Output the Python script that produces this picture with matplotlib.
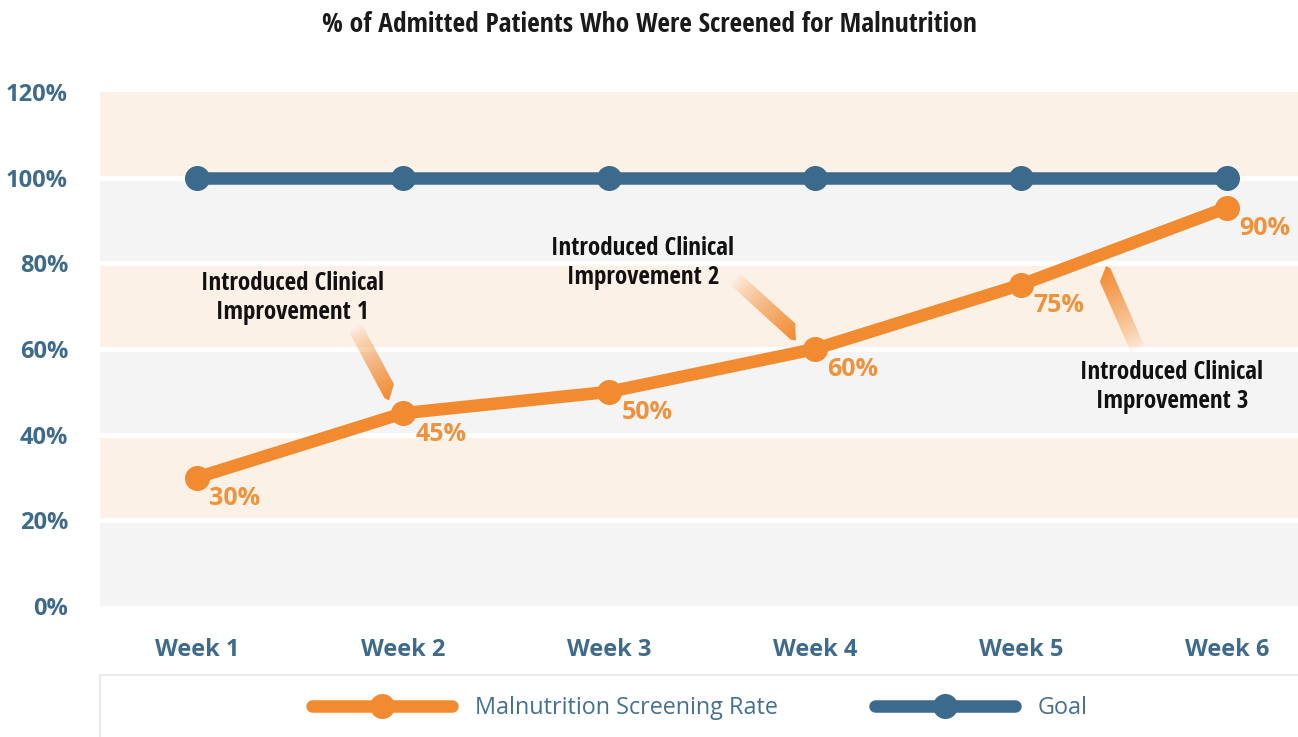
import matplotlib
matplotlib.use('Agg')
import numpy as np
import matplotlib.pyplot as plt
from matplotlib import font_manager as fm
from matplotlib.path import Path
from matplotlib.patches import Rectangle
from matplotlib.colors import to_rgb

# ---------------- data ----------------
weeks = ['Week 1', 'Week 2', 'Week 3', 'Week 4', 'Week 5', 'Week 6']
screening_rate = [30, 45, 50, 60, 75, 93]
rate_labels = ['30%', '45%', '50%', '60%', '75%', '90%']
goal = [100, 100, 100, 100, 100, 100]
y_ticks = [0, 20, 40, 60, 80, 100, 120]
y_tick_labels = ['0%', '20%', '40%', '60%', '80%', '100%', '120%']
title = '% of Admitted Patients Who Were Screened for Malnutrition'
series_names = ['Malnutrition Screening Rate', 'Goal']
annotation_texts = ['Introduced Clinical\nImprovement 1',
                    'Introduced Clinical\nImprovement 2',
                    'Introduced Clinical\nImprovement 3']
annotation_weeks = [1, 3, 4]

# ---------------- style ----------------
ORANGE = '#F28A2F'
LABEL_ORANGE = '#F0923C'
BLUE = '#3B6A8D'
TICK_BLUE = '#3E6B8C'
PEACH = '#FCF1E7'
GRAY = '#F4F4F4'

names = {f.name for f in fm.fontManager.ttflist}
MAIN = 'Open Sans' if 'Open Sans' in names else 'DejaVu Sans'
COND, COND_STRETCH = None, 'normal'
for c in ['Open Sans Condensed', 'Roboto Condensed', 'Liberation Sans Narrow',
          'Arial Narrow', 'DejaVu Sans Condensed']:
    if c in names:
        COND = c
        break
if COND is None:
    for f in fm.fontManager.ttflist:
        if f.name == 'DejaVu Sans' and 'condensed' in str(f.stretch):
            COND, COND_STRETCH = 'DejaVu Sans', 'condensed'
            break
if COND is None:
    COND = 'Roboto' if 'Roboto' in names else MAIN

W, H = 1298, 737
fig = plt.figure(figsize=(W / 100, H / 100), dpi=100)
fig.patch.set_facecolor('white')
ax = fig.add_axes([100 / W, 131 / H, 1 - 100 / W, 514 / H])

x = np.arange(len(weeks))
ax.set_xlim(-0.471, 5.345)
ax.set_ylim(0, 120)

# alternating bands
for i in range(len(y_ticks) - 1):
    ax.axhspan(y_ticks[i], y_ticks[i + 1], color=[GRAY, PEACH][i % 2], lw=0, zorder=0)
for yv in y_ticks[1:-1]:
    ax.axhline(yv, color='white', lw=3.5, zorder=1)

l_rate, = ax.plot(x, screening_rate, color=ORANGE, lw=9, marker='o', ms=17,
                  solid_capstyle='round', zorder=4)
l_goal, = ax.plot(x, goal, color=BLUE, lw=9, marker='o', ms=17,
                  solid_capstyle='round', zorder=3)

for xi, yi, lab in zip(x, screening_rate, rate_labels):
    ax.annotate(lab, (xi, yi), xytext=(38 * 0.72, -21 * 0.72), textcoords='offset points',
                ha='center', va='center', color=LABEL_ORANGE, fontsize=18,
                fontweight='bold', family=MAIN, zorder=6)

ax.set_xticks(x, weeks)
ax.set_yticks(y_ticks, y_tick_labels)
ax.tick_params(axis='both', length=0, colors=TICK_BLUE, labelsize=17)
ax.tick_params(axis='y', pad=23)
ax.tick_params(axis='x', pad=23)
for lab in ax.get_xticklabels() + ax.get_yticklabels():
    lab.set_fontweight('bold')
    lab.set_family(MAIN)
for s in ax.spines.values():
    s.set_visible(False)

renderer = fig.canvas.get_renderer()


def fit_width(t, target):
    for _ in range(3):
        bb = t.get_window_extent(renderer)
        t.set_fontsize(t.get_fontsize() * target / bb.width)


# title
t = fig.text(0.5, 1 - 24 / H, title, ha='center', va='center', fontsize=18,
             fontweight='bold', family=COND, fontstretch=COND_STRETCH, color='#1A1A1A')
fit_width(t, 653)

# legend box
fig.patches.append(Rectangle((100 / W, -0.01), 1, (737 - 675) / H + 0.01,
                             transform=fig.transFigure, facecolor='white',
                             edgecolor='#E6E6E6', lw=1.2, zorder=0, figure=fig))
leg = fig.legend([l_rate, l_goal], series_names, loc='center',
                 bbox_to_anchor=(700 / W, 1 - 708 / H), ncol=2, frameon=False,
                 prop=fm.FontProperties(family=MAIN, size=16.8),
                 handlelength=6.0, handletextpad=0.95, columnspacing=4.2,
                 numpoints=1, borderaxespad=0)
for txt in leg.get_texts():
    txt.set_color('#46708F')


# annotations (offsets in image pixels from the anchor point: dx right, dy down)
text_offsets = [(-111, -115), (-172, -86), (151, 102)]
tail_offsets = [(-48, -86), (-80, -70), (117, 65)]
tip_offsets = [(-10, -15), (-16, -12), (81, -17)]


def to_px(i):
    return ax.transData.transform((x[i], screening_rate[i]))


def grad_arrow(p0, p1, w=15, head=12, color=ORANGE):
    p0 = np.asarray(p0, float)
    p1 = np.asarray(p1, float)
    d = p1 - p0
    L = np.hypot(*d)
    u = d / L
    v = np.array([-u[1], u[0]])

    def pt(s, tt):
        return p0 + u * s + v * tt
    poly = np.array([pt(0, -w / 2), pt(L - head * 0.35, -w / 2), pt(L, -w * 0.3),
                     pt(L - head, w / 2), pt(0, w / 2)])
    path = Path(np.vstack([poly, poly[:1]]), closed=True)
    xmin, ymin = np.floor(poly.min(0)).astype(int) - 1
    xmax, ymax = np.ceil(poly.max(0)).astype(int) + 1
    nx, ny = xmax - xmin, ymax - ymin
    ss = 4
    xs = xmin + (np.arange(nx * ss) + 0.5) / ss
    ys = ymin + (np.arange(ny * ss) + 0.5) / ss
    XX, YY = np.meshgrid(xs, ys)
    inside = path.contains_points(np.column_stack([XX.ravel(), YY.ravel()]))
    cov = inside.reshape(ny, ss, nx, ss).astype(float).mean(axis=(1, 3))
    XC, YC = np.meshgrid(xmin + np.arange(nx) + 0.5, ymin + np.arange(ny) + 0.5)
    proj = ((XC - p0[0]) * u[0] + (YC - p0[1]) * u[1]) / L
    a = np.clip(proj, 0, 1) ** 0.75
    rgba = np.zeros((ny, nx, 4))
    rgba[..., :3] = to_rgb(color)
    rgba[..., 3] = cov * a
    fig.figimage(rgba, xo=xmin, yo=ymin, origin='lower', zorder=5)


for txt, wi, to, ta, tp in zip(annotation_texts, annotation_weeks,
                               text_offsets, tail_offsets, tip_offsets):
    px, py = to_px(wi)
    tx, ty = px + to[0], py - to[1]
    at = fig.text(tx / W, ty / H, txt, ha='center', va='center', multialignment='center',
                  fontsize=16, fontweight='bold', family=COND, fontstretch=COND_STRETCH,
                  color='#111111', linespacing=1.2, zorder=7)
    fit_width(at, 183)
    grad_arrow((px + ta[0], py - ta[1]), (px + tp[0], py - tp[1]))

fig.savefig('out.png', dpi=100, facecolor='white')
